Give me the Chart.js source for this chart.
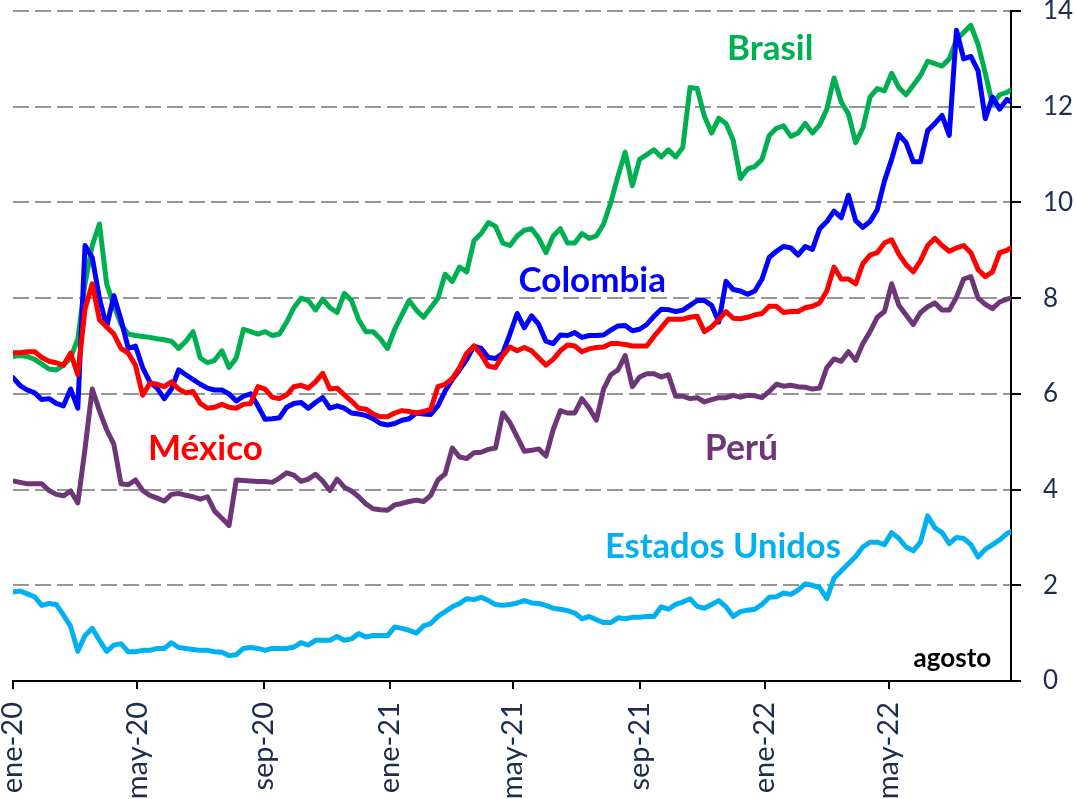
<!DOCTYPE html>
<html>
<head>
<meta charset="utf-8">
<script src="https://cdn.jsdelivr.net/npm/chart.js@4.4.1/dist/chart.umd.min.js"></script>
<style>
  html, body { margin: 0; padding: 0; background: #ffffff; }
  #wrap { width: 1076px; height: 799px; position: relative; }
  canvas { display: block; }
</style>
</head>
<body>
<div id="wrap"><canvas id="chart" width="1076" height="799"></canvas></div>
<script>
// ---------------- DATA ----------------
// Weekly observations starting 2020-01-01 (every 7 days), plus a final one on lastDate.
const startDate = '2020-01-01';
const stepDays = 7;
const lastDate = '2022-08-28';

const tickDates  = ['2020-01-01','2020-05-01','2020-09-01','2021-01-01','2021-05-01','2021-09-01','2022-01-01','2022-05-01'];
const tickLabels = ['ene-20','may-20','sep-20','ene-21','may-21','sep-21','ene-22','may-22'];
const yTickValues = [0, 2, 4, 6, 8, 10, 12, 14];

const brasil = [
  6.78,6.80,6.78,6.72,6.62,6.52,6.50,6.60,6.75,7.15,
  8.30,9.10,9.55,8.30,7.85,7.45,7.25,7.22,7.20,7.18,
  7.15,7.13,7.10,6.95,7.10,7.30,6.75,6.65,6.70,6.90,
  6.55,6.75,7.35,7.30,7.25,7.30,7.22,7.25,7.50,7.80,
  8.00,7.95,7.75,7.98,7.80,7.70,8.10,7.95,7.55,7.30,
  7.30,7.15,6.95,7.35,7.65,7.95,7.75,7.60,7.80,8.00,
  8.50,8.35,8.65,8.55,9.20,9.35,9.58,9.50,9.15,9.10,
  9.30,9.42,9.45,9.25,8.95,9.30,9.45,9.15,9.15,9.35,
  9.25,9.30,9.55,10.00,10.55,11.05,10.35,10.90,11.00,11.10,
  10.95,11.10,10.95,11.15,12.40,12.38,11.80,11.45,11.76,11.65,
  11.30,10.50,10.70,10.75,10.90,11.40,11.55,11.60,11.38,11.45,
  11.65,11.45,11.62,11.95,12.60,12.10,11.85,11.25,11.55,12.20,
  12.38,12.33,12.70,12.40,12.25,12.45,12.65,12.95,12.90,12.85,
  13.00,13.40,13.55,13.70,13.30,12.70,12.05,12.25,12.30,12.35
];
const colombia = [
  6.34,6.17,6.08,6.02,5.88,5.90,5.80,5.75,6.10,5.70,
  9.10,8.85,8.00,7.40,8.05,7.55,6.95,7.00,6.55,6.25,
  6.12,5.90,6.10,6.50,6.40,6.30,6.20,6.12,6.08,6.08,
  6.00,5.85,5.95,6.00,5.75,5.47,5.48,5.50,5.72,5.80,
  5.82,5.70,5.82,5.92,5.70,5.75,5.70,5.60,5.58,5.55,
  5.48,5.38,5.35,5.38,5.45,5.48,5.60,5.58,5.57,5.75,
  6.06,6.30,6.50,6.72,7.00,6.95,6.76,6.74,6.85,7.25,
  7.68,7.38,7.63,7.45,7.10,7.05,7.23,7.22,7.28,7.18,
  7.22,7.22,7.23,7.33,7.42,7.43,7.32,7.35,7.45,7.62,
  7.77,7.76,7.72,7.75,7.85,7.95,7.95,7.85,7.50,8.35,
  8.18,8.15,8.08,8.15,8.40,8.85,8.98,9.08,9.05,8.90,
  9.08,9.02,9.45,9.60,9.82,9.68,10.15,9.62,9.48,9.60,
  9.85,10.45,10.90,11.42,11.25,10.85,10.85,11.50,11.65,11.82,
  11.40,13.60,13.00,13.05,12.75,11.75,12.20,11.95,12.15,12.10
];
const mexico = [
  6.86,6.86,6.88,6.88,6.76,6.68,6.65,6.60,6.85,6.40,
  7.77,8.30,7.55,7.40,7.25,6.95,6.85,6.60,5.97,6.22,
  6.20,6.15,6.25,6.10,6.02,6.05,5.80,5.70,5.72,5.78,
  5.72,5.70,5.78,5.80,6.15,6.10,5.93,5.90,5.98,6.15,
  6.18,6.12,6.25,6.43,6.10,6.12,5.98,5.85,5.70,5.68,
  5.58,5.52,5.52,5.60,5.65,5.63,5.60,5.63,5.68,6.15,
  6.20,6.32,6.55,6.85,7.00,6.82,6.58,6.55,6.80,6.98,
  6.90,6.97,6.90,6.75,6.60,6.72,6.90,7.02,7.00,6.88,
  6.94,6.97,6.98,7.05,7.05,7.03,7.00,7.00,7.00,7.20,
  7.38,7.56,7.56,7.56,7.60,7.62,7.30,7.40,7.55,7.72,
  7.58,7.57,7.60,7.65,7.68,7.83,7.83,7.70,7.72,7.72,
  7.80,7.83,7.90,8.15,8.65,8.40,8.40,8.30,8.72,8.90,
  8.95,9.15,9.22,8.92,8.70,8.55,8.78,9.10,9.25,9.10,
  8.98,9.05,9.10,8.95,8.60,8.45,8.55,8.95,9.00,9.05
];
const peru = [
  4.18,4.15,4.12,4.12,4.12,3.98,3.90,3.87,3.97,3.72,
  4.85,6.10,5.65,5.25,4.95,4.12,4.10,4.20,3.98,3.88,
  3.82,3.76,3.90,3.92,3.88,3.85,3.80,3.85,3.55,3.40,
  3.25,4.20,4.19,4.18,4.17,4.17,4.15,4.24,4.35,4.30,
  4.17,4.22,4.32,4.18,3.98,4.22,4.05,3.97,3.85,3.70,
  3.60,3.58,3.57,3.68,3.71,3.75,3.78,3.75,3.88,4.20,
  4.33,4.87,4.68,4.65,4.77,4.78,4.84,4.87,5.60,5.40,
  5.10,4.80,4.82,4.85,4.70,5.25,5.65,5.60,5.60,5.90,
  5.70,5.45,6.10,6.40,6.50,6.80,6.15,6.35,6.42,6.42,
  6.35,6.40,5.95,5.95,5.90,5.92,5.83,5.88,5.92,5.92,
  5.97,5.93,5.97,5.96,5.92,6.05,6.20,6.16,6.18,6.15,
  6.14,6.10,6.12,6.55,6.73,6.68,6.88,6.70,7.05,7.30,
  7.60,7.72,8.30,7.85,7.65,7.45,7.70,7.82,7.90,7.75,
  7.75,8.02,8.40,8.45,8.00,7.87,7.78,7.92,7.98,8.00
];
const estadosUnidos = [
  1.86,1.88,1.82,1.76,1.58,1.62,1.60,1.38,1.14,0.62,
  0.95,1.10,0.85,0.62,0.75,0.78,0.61,0.61,0.64,0.64,
  0.68,0.68,0.80,0.70,0.68,0.66,0.64,0.64,0.61,0.60,
  0.53,0.55,0.68,0.70,0.68,0.64,0.68,0.68,0.68,0.71,
  0.80,0.75,0.85,0.85,0.85,0.93,0.85,0.88,0.99,0.92,
  0.95,0.95,0.95,1.13,1.10,1.06,1.00,1.15,1.20,1.35,
  1.45,1.55,1.62,1.72,1.70,1.75,1.68,1.60,1.58,1.60,
  1.63,1.68,1.63,1.62,1.58,1.52,1.50,1.47,1.42,1.30,
  1.35,1.28,1.22,1.22,1.32,1.30,1.33,1.33,1.35,1.35,
  1.55,1.50,1.60,1.65,1.72,1.56,1.52,1.60,1.68,1.55,
  1.35,1.45,1.48,1.50,1.60,1.75,1.76,1.84,1.81,1.90,
  2.03,2.00,1.95,1.72,2.15,2.30,2.45,2.60,2.80,2.90,
  2.90,2.85,3.10,2.98,2.80,2.72,2.90,3.45,3.20,3.10,
  2.87,3.00,2.98,2.85,2.59,2.75,2.85,2.95,3.08,3.12
];

// ---------------- HELPERS ----------------
const DAY_MS = 86400000;
const dayOf = s => Math.round((Date.parse(s) - Date.parse(startDate)) / DAY_MS);
const lastDay = dayOf(lastDate);
// observation days: weekly schedule, last value is on lastDate
const obsDays = brasil.map((_, i) => (i === brasil.length - 1 ? lastDay : i * stepDays));
const toPoints = arr => arr.map((v, i) => ({ x: obsDays[i], y: v }));

// ---------------- STYLE ----------------
const FONT = 'Lato';
const tickColor = '#1F2D4D';

const seriesLabels = [
  { text: 'Brasil',         day: 736, value: 12.98, color: '#00B050', size: 35 },
  { text: 'Colombia',       day: 563, value: 8.13,  color: '#0000FF', size: 35 },
  { text: 'México',         day: 187, value: 4.62,  color: '#FF0000', size: 35 },
  { text: 'Perú',           day: 708, value: 4.62,  color: '#6C3677', size: 35.5 },
  { text: 'Estados Unidos', day: 690, value: 2.56,  color: '#00B0F0', size: 34.5 },
  { text: 'agosto',         day: 913, value: 0.30,  color: '#000000', size: 26 }
];

const labelPlugin = {
  id: 'seriesLabels',
  afterDatasetsDraw(chart) {
    const { ctx, scales: { x, y } } = chart;
    ctx.save();
    ctx.textAlign = 'center';
    ctx.textBaseline = 'alphabetic';
    seriesLabels.forEach(l => {
      ctx.font = `bold ${l.size}px ${FONT}`;
      ctx.fillStyle = l.color;
      ctx.fillText(l.text, x.getPixelForValue(l.day), y.getPixelForValue(l.value));
    });
    ctx.restore();
  }
};

function draw() {
  const ds = (label, arr, color) => ({
    label, data: toPoints(arr), borderColor: color, backgroundColor: color,
    borderWidth: 5, pointRadius: 0, pointHoverRadius: 0, tension: 0,
    fill: false, borderJoinStyle: 'round', borderCapStyle: 'round'
  });

  new Chart(document.getElementById('chart'), {
    type: 'line',
    data: {
      // first dataset is drawn on top
      datasets: [
        ds('Estados Unidos', estadosUnidos, '#00B0F0'),
        ds('Perú', peru, '#6C3677'),
        ds('México', mexico, '#FF0000'),
        ds('Colombia', colombia, '#0000FF'),
        ds('Brasil', brasil, '#00B050')
      ]
    },
    options: {
      responsive: false,
      animation: false,
      devicePixelRatio: 1,
      layout: { padding: { left: 13, top: 11, right: 0, bottom: 0 } },
      plugins: { legend: { display: false }, tooltip: { enabled: false } },
      scales: {
        x: {
          type: 'linear',
          min: 0,
          max: lastDay,
          afterBuildTicks: s => { s.ticks = tickDates.map(d => ({ value: dayOf(d) })); },
          afterFit: s => { s.height = 118; s.paddingLeft = 0; s.paddingRight = 0; },
          ticks: {
            autoSkip: false, maxRotation: 90, minRotation: 90,
            padding: 13, color: tickColor,
            font: { family: FONT, size: 29 },
            callback: (v, i) => tickLabels[i]
          },
          grid: {
            drawOnChartArea: false, drawTicks: true, tickLength: 8,
            tickColor: '#000000', tickWidth: 2, color: '#000000', lineWidth: 2
          },
          border: { display: true, color: '#000000', width: 2 }
        },
        y: {
          position: 'right',
          min: 0, max: 14,
          afterBuildTicks: s => { s.ticks = yTickValues.map(v => ({ value: v })); },
          afterFit: s => { s.width = 65; s.paddingTop = 0; s.paddingBottom = 0; },
          ticks: {
            padding: 22, color: tickColor,
            font: { family: FONT, size: 26 }
          },
          grid: {
            color: '#969696', lineWidth: 2, drawTicks: true, tickLength: 10,
            tickColor: '#000000', tickWidth: 2, tickBorderDash: []
          },
          border: { display: true, color: '#000000', width: 2, dash: [16, 6] }
        }
      }
    },
    plugins: [labelPlugin]
  });
}

Promise.all([
  document.fonts.load(`29px ${FONT}`),
  document.fonts.load(`bold 35px ${FONT}`)
]).then(draw, draw);
</script>
</body>
</html>
